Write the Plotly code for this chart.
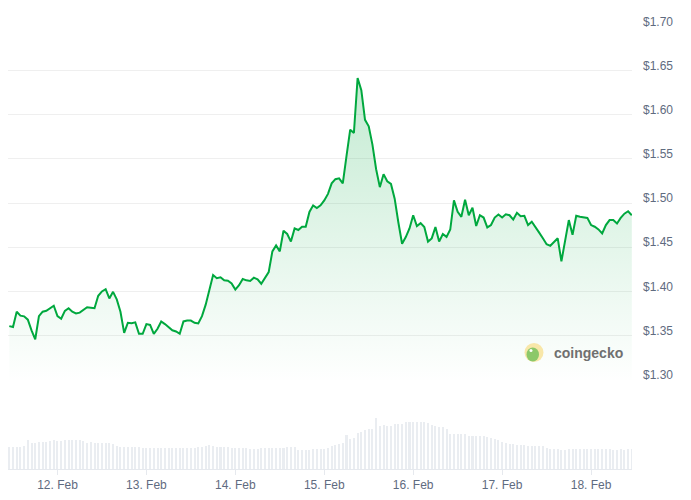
import plotly.graph_objects as go
import pandas as pd

# ---- data (hourly, 7 days) ----
start_time = "2025-02-11 11:00"
price = [
    1.3607, 1.3596, 1.377, 1.3726, 1.3718, 1.368, 1.3559, 1.3458, 1.372, 1.377,
    1.378, 1.3808, 1.3838, 1.372, 1.369, 1.378, 1.381, 1.377, 1.375, 1.376,
    1.379, 1.382, 1.3816, 1.381, 1.395, 1.400, 1.4025, 1.392, 1.3995, 1.391,
    1.377, 1.353, 1.3645, 1.364, 1.365, 1.352, 1.352, 1.363, 1.362, 1.352,
    1.3577, 1.366, 1.363, 1.3596, 1.356, 1.3547, 1.352, 1.366, 1.367, 1.367,
    1.3645, 1.3637, 1.372, 1.385, 1.4025, 1.4185, 1.415, 1.416, 1.4125, 1.412,
    1.409, 1.402, 1.407, 1.414, 1.4125, 1.4118, 1.4155, 1.4136, 1.4087, 1.4155,
    1.4218, 1.4453, 1.452, 1.4453, 1.4687, 1.465, 1.4564, 1.4713, 1.4695, 1.4732,
    1.4732, 1.49, 1.4974, 1.4944, 1.4974, 1.503, 1.5104, 1.5223, 1.527, 1.528,
    1.5223, 1.553, 1.583, 1.5793, 1.6416, 1.6277, 1.5942, 1.5868, 1.5662, 1.5383,
    1.518, 1.5327, 1.5246, 1.5216, 1.505, 1.478, 1.4539, 1.4615, 1.4713, 1.4862,
    1.474, 1.4773, 1.4728, 1.4564, 1.46, 1.4728, 1.4564, 1.465, 1.4617, 1.47,
    1.503, 1.49, 1.4844, 1.5037, 1.4862, 1.4947, 1.474, 1.4862, 1.4836, 1.4724,
    1.4751, 1.4836, 1.487, 1.4836, 1.4873, 1.4862, 1.4813, 1.489, 1.4852, 1.4855,
    1.4751, 1.4788, 1.4732, 1.4665, 1.4601, 1.4534, 1.4516, 1.4564, 1.4601, 1.434,
    1.46, 1.4807, 1.464, 1.4855, 1.4844, 1.484, 1.4832, 1.4751, 1.4732, 1.4702,
    1.4657, 1.4751, 1.4807, 1.4807, 1.4769, 1.4832, 1.488, 1.4907, 1.4862,
]
volume = [
    22, 22, 22, 22, 23, 29.3, 26, 26, 27, 27, 27, 28, 29, 28, 28, 29, 29, 29, 29, 29,
    28, 26, 27, 26, 26, 26, 26, 26, 25, 23.3,
    22, 22, 22, 22, 22, 22, 21.5, 21.5, 21.5, 21.5, 21.5, 21.5, 21.5, 21.5, 21.5, 21.5,
    21, 21.5, 21.5, 21, 21.5, 22, 22, 23, 24.5, 23, 22.5, 22.5, 22.5, 22.5,
    21.5, 21.5, 21, 21, 21, 20.5, 20, 20.5, 21, 21.5, 21, 21, 21, 21, 21,
    22.5, 22.5, 22.5, 19, 19, 19, 19, 20, 20,
    20, 20, 21, 23, 24, 25, 25.7, 34, 30, 31, 36.7, 37.7, 39, 40, 40, 51, 43.3, 44,
    43.7, 43.7, 45.7, 45.7, 45.7, 47, 47.7, 47.7, 47.7, 47.7, 47, 46.3, 44.3, 43.3,
    42.7, 42.7, 40.7, 35.7, 35.7, 35,
    35, 35, 33, 33, 33, 33, 33, 32, 31.5, 30, 29, 27, 26, 25.5, 25, 24.5, 24.5, 24,
    23.5, 23, 23, 23, 23, 21, 20.5, 20, 20, 19.5, 19.5, 20.5, 20.5, 20.5, 20.5, 20.5,
    20.5, 20.5, 20, 20.5, 20, 20, 20, 19.5, 19.5, 20, 19, 20, 20,
]
times = pd.date_range(start_time, periods=len(price), freq="h")
y_ticks = [1.30, 1.35, 1.40, 1.45, 1.50, 1.55, 1.60, 1.65, 1.70]

GREEN = "#00a83e"
LABEL = "#5f6b80"
W, H = 691, 500
ML, MR, MT, MB = 8, 59, 20, 25
PW, PH = W - ML - MR, H - MT - MB

def px_x(p):
    return (p - ML) / PW

def px_y(p):
    return (H - MB - p) / PH

fig = go.Figure()
fig.add_trace(go.Bar(
    x=times, y=volume, yaxis="y2", marker=dict(color="#eaedf1", line=dict(width=0)),
    width=0.55 * 3600 * 1000, hoverinfo="skip", showlegend=False,
))
fig.add_trace(go.Scatter(
    x=times, y=price, mode="lines", line=dict(color=GREEN, width=2),
    fill="tozeroy",
    fillgradient=dict(type="vertical", start=1.30, stop=1.65,
                      colorscale=[[0, "rgba(0,168,62,0)"], [1, "rgba(0,168,62,0.24)"]]),
    showlegend=False,
))

x0 = times[0] - pd.Timedelta(minutes=21)
x1 = times[-1] + pd.Timedelta(minutes=3)

fig.update_layout(
    width=W, height=H,
    margin=dict(l=ML, r=MR, t=MT, b=MB),
    paper_bgcolor="white", plot_bgcolor="white",
    font=dict(family="Liberation Sans, Arial, sans-serif", size=12, color=LABEL),
    bargap=0,
    xaxis=dict(
        type="date", range=[x0, x1], anchor="y2",
        showgrid=False, zeroline=False,
        showline=True, linecolor="#e6e9ee", linewidth=1,
        ticks="outside", ticklen=5, tickcolor="#e6e9ee",
        tick0="2025-02-12", dtick=86400000, tickformat="%-d. %b",
        tickfont=dict(size=12, color=LABEL),
    ),
    yaxis=dict(
        domain=[px_y(385), px_y(26)], range=[1.2995, 1.7005],
        side="right", tickvals=y_ticks, tickformat="$.2f",
        showgrid=True, gridcolor="#efefef", gridwidth=1,
        zeroline=False, showline=False, ticks="",
        ticklabelshift=-5, ticklabelstandoff=10,
        tickfont=dict(size=12, color=LABEL),
    ),
    yaxis2=dict(
        domain=[0, px_y(385)], range=[0, 90],
        showgrid=False, showticklabels=False, zeroline=False, showline=False,
    ),
)

# coingecko watermark
lx, ly = px_x(534), px_y(357)
fig.add_shape(type="circle", xref="paper", yref="paper", xsizemode="pixel", ysizemode="pixel",
              xanchor=lx, yanchor=ly, x0=-9.5, x1=9.5, y0=-9.5, y1=9.5,
              fillcolor="#f8e7a9", line=dict(width=0), layer="above")
fig.add_shape(type="circle", xref="paper", yref="paper", xsizemode="pixel", ysizemode="pixel",
              xanchor=lx, yanchor=ly, x0=-7.5, x1=5, y0=-9, y1=5,
              fillcolor="#8cc86a", line=dict(width=0), layer="above")
fig.add_shape(type="circle", xref="paper", yref="paper", xsizemode="pixel", ysizemode="pixel",
              xanchor=lx, yanchor=ly, x0=-4.5, x1=-1.5, y0=0.5, y1=3.5,
              fillcolor="white", line=dict(width=0), layer="above")
fig.add_annotation(
    x=px_x(552), y=ly, xref="paper", yref="paper", xanchor="left", yanchor="middle",
    text="<b>coingecko</b>", showarrow=False,
    font=dict(family="Liberation Sans, Arial, sans-serif", size=14, color="#707070"),
)

fig.write_html(
    "out.html",
    config={"displayModeBar": False},
    post_script="document.body.style.margin='0';document.body.style.overflow='hidden';",
)
